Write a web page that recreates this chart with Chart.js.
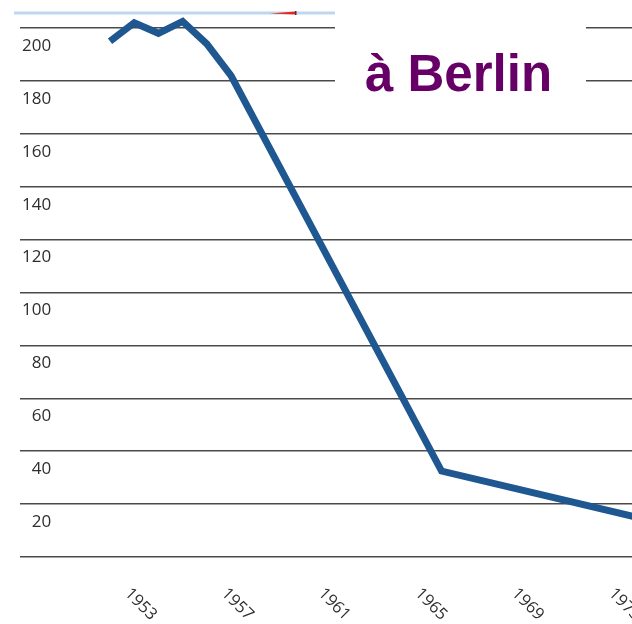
<!DOCTYPE html>
<html lang="fr">
<head>
  <meta charset="UTF-8" />
  <title>à Berlin</title>
  <script src="https://cdn.jsdelivr.net/npm/chart.js"></script>
  <style>
    body {
      margin: 0;
      padding: 0;
      background: #fff;
    }
    canvas {
      display: block;
    }
  </style>
</head>
<body>
  <canvas id="berlinChart" width="632" height="624"></canvas>

  <script>
    // values
    const years = [1952, 1953, 1954, 1955, 1956, 1957, 1965.7, 1974];
    const values = [195, 202, 198, 202.5, 194, 182, 32.5, 14.5];
    const yTicks = [0, 20, 40, 60, 80, 100, 120, 140, 160, 180, 200];
    const xTickYears = [1953, 1957, 1961, 1965, 1969, 1973];
    const title = 'à Berlin';

    const tickColor = '#2e2e2e';

    // header strip, white box behind the title, rotated year labels
    const decorations = {
      id: 'decorations',
      beforeDraw(chart) {
        const ctx = chart.ctx;
        ctx.save();
        ctx.fillStyle = '#fff';
        ctx.fillRect(0, 0, chart.width, chart.height);
        ctx.restore();
      },
      afterDraw(chart) {
        const ctx = chart.ctx;
        ctx.save();

        // light blue strip left over from the page above
        ctx.fillStyle = '#bdd7ee';
        ctx.fillRect(14, 11.5, 321, 3);
        ctx.fillStyle = '#e8261c';
        ctx.beginPath();
        ctx.moveTo(270, 13.5);
        ctx.lineTo(296, 11.5);
        ctx.lineTo(296, 14.5);
        ctx.closePath();
        ctx.fill();
        ctx.fillStyle = '#5a2a2a';
        ctx.fillRect(295, 11, 1.5, 4);

        // title box
        ctx.fillStyle = '#fff';
        ctx.fillRect(335, 0, 251, 100);
        ctx.fillStyle = '#660066';
        ctx.font = 'bold 51px "Liberation Sans", Arial, sans-serif';
        ctx.textAlign = 'left';
        ctx.textBaseline = 'alphabetic';
        ctx.fillText(title, 365, 91);

        // x labels, turned clockwise
        const x = chart.scales.x;
        ctx.fillStyle = tickColor;
        ctx.font = '16.5px "Open Sans", sans-serif';
        ctx.textBaseline = 'middle';
        x.ticks.forEach(t => {
          const px = x.getPixelForValue(t.value);
          ctx.save();
          ctx.translate(px - 7, 591);
          ctx.rotate(Math.PI / 4);
          ctx.fillText(String(t.value), 0, 0);
          ctx.restore();
        });

        ctx.restore();
      }
    };

    new Chart(document.getElementById('berlinChart'), {
      type: 'line',
      data: {
        datasets: [{
          data: years.map((yr, i) => ({ x: yr, y: values[i] })),
          borderColor: '#1f5791',
          borderWidth: 7,
          pointRadius: 0,
          tension: 0,
          fill: false
        }]
      },
      options: {
        responsive: false,
        animation: false,
        layout: {
          padding: { left: 16, right: 0, top: 14, bottom: 67 }
        },
        plugins: {
          legend: { display: false },
          tooltip: { enabled: false }
        },
        scales: {
          x: {
            type: 'linear',
            min: 1948.28,
            max: 1973.57,
            afterBuildTicks: axis => {
              axis.ticks = xTickYears.map(v => ({ value: v }));
            },
            grid: { display: false, drawTicks: false },
            border: { display: false },
            ticks: { display: false }
          },
          y: {
            min: 0,
            max: 205.3,
            afterBuildTicks: axis => {
              axis.ticks = yTicks.map(v => ({ value: v }));
            },
            grid: {
              color: '#4a4a4a',
              lineWidth: 1.6,
              drawTicks: false
            },
            border: { display: false },
            ticks: {
              mirror: true,
              crossAlign: 'far',
              padding: 2,
              labelOffset: 18,
              color: tickColor,
              font: { family: '"Open Sans", sans-serif', size: 17 },
              callback: v => (v === 0 ? '' : v)
            }
          }
        }
      },
      plugins: [decorations]
    });
  </script>
</body>
</html>
